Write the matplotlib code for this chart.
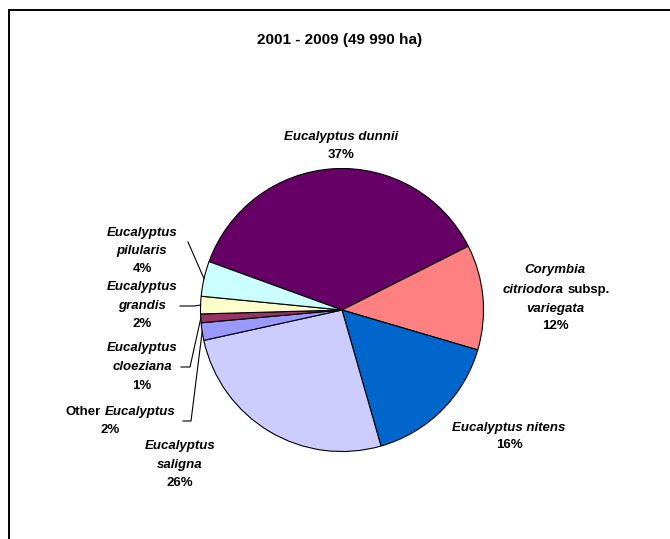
import numpy as np
import matplotlib
matplotlib.use("Agg")
import matplotlib.pyplot as plt
from matplotlib.patches import Rectangle

plt.rcParams['font.family'] = ['Liberation Sans', 'DejaVu Sans']

# planted area by species, 2001 - 2009 (percent of 49 990 ha)
species = ['dunnii', 'corymbia', 'nitens', 'saligna', 'other', 'cloeziana', 'grandis', 'pilularis']
shares = [37, 12, 16, 26, 2, 1, 2, 4]
colors = ['#660066', '#FF8080', '#0066CC', '#CCCCFF', '#9999FF', '#993366', '#FFFFCC', '#CCFFFF']
title = '2001 - 2009 (49 990 ha)'

W, H = 670, 539
CX, CY, R = 342, 310, 141.5
START = 160

def py(y):
    # pixel row (from top) -> data y
    return H - y

fig = plt.figure(figsize=(W / 100, H / 100), dpi=100)
ax = fig.add_axes([0, 0, 1, 1])
wedges, _ = ax.pie(shares, colors=colors, startangle=START, counterclock=False,
                   center=(CX, py(CY)), radius=R,
                   wedgeprops=dict(edgecolor='black', linewidth=0.8))
ax.set_xlim(0, W)
ax.set_ylim(0, H)
ax.axis('off')

# outer chart border (runs off the right and bottom edges)
ax.add_patch(Rectangle((8.5, -10), W + 20, py(10) + 10, fill=False,
                       edgecolor='black', linewidth=1.4, clip_on=False))

ax.text(340, py(40), title, ha='center', va='center', fontsize=11, fontweight='bold')

fs = 9.5
bi = dict(fontsize=fs, fontweight='bold', fontstyle='italic', ha='center', va='center')
bn = dict(fontsize=fs, fontweight='bold', ha='center', va='center')

def pct(i):
    return f'{shares[i]}%'

# dunnii
ax.text(341, py(137), 'Eucalyptus dunnii', **bi)
ax.text(341, py(155), pct(0), **bn)
# corymbia
ax.text(555, py(270), 'Corymbia', **bi)
ax.text(564, py(290), 'citriodora', **{**bi, 'ha': 'right'})
ax.text(568, py(290), 'subsp.', **{**bn, 'ha': 'left'})
ax.text(555, py(309), 'variegata', **bi)
ax.text(555, py(326), pct(1), **bn)
# nitens
ax.text(509, py(428), 'Eucalyptus nitens', **bi)
ax.text(509, py(445), pct(2), **bn)
# saligna
ax.text(180, py(446), 'Eucalyptus', **bi)
ax.text(180, py(465), 'saligna', **bi)
ax.text(180, py(483), pct(3), **bn)
# other
ax.text(101, py(412), 'Other', **{**bn, 'ha': 'right'})
ax.text(105, py(412), 'Eucalyptus', **{**bi, 'ha': 'left'})
ax.text(110, py(430), pct(4), **bn)
# cloeziana
ax.text(142, py(348), 'Eucalyptus', **bi)
ax.text(142, py(367), 'cloeziana', **bi)
ax.text(142, py(386), pct(5), **bn)
# grandis
ax.text(142, py(287), 'Eucalyptus', **bi)
ax.text(142, py(306), 'grandis', **bi)
ax.text(142, py(324), pct(6), **bn)
# pilularis
ax.text(142, py(233), 'Eucalyptus', **bi)
ax.text(142, py(251), 'pilularis', **bi)
ax.text(142, py(269), pct(7), **bn)

# leader lines from the small slices' labels to the wedge edge
def edge_point(w):
    mid = np.deg2rad((w.theta1 + w.theta2) / 2)
    return CX + R * np.cos(mid), py(CY) + R * np.sin(mid)

leaders = {
    4: [(183, 421), (191, 421)],
    5: [(181, 367), (190, 367)],
    6: [(180, 306), (194, 306)],
    7: [(188, 242)],
}
for i, pts in leaders.items():
    ex, ey = edge_point(wedges[i])
    xs = [p[0] for p in pts] + [ex]
    ys = [py(p[1]) for p in pts] + [ey]
    ax.plot(xs, ys, color='black', linewidth=0.8)

fig.savefig('out.png', dpi=100)
